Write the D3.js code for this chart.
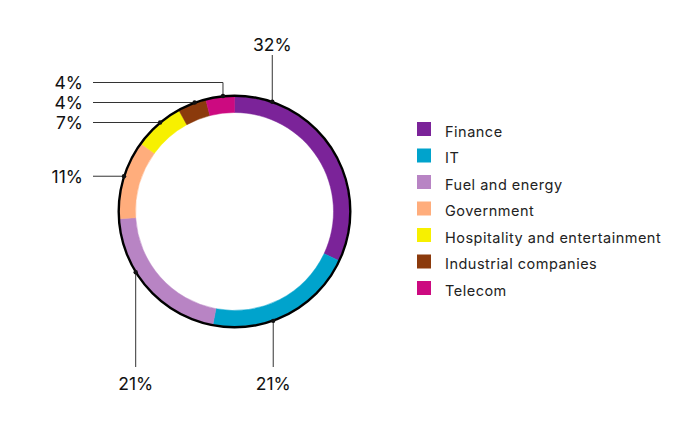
<!DOCTYPE html>
<html>
<head>
<meta charset="utf-8">
<script src="https://cdn.jsdelivr.net/npm/d3@7"></script>
<style>
  html, body { margin: 0; padding: 0; background: #fff; }
  svg { display: block; font-family: Inter, "Open Sans", sans-serif; }
</style>
</head>
<body>
<div id="chart"></div>
<script>
// data
const categories = ["Finance", "IT", "Fuel and energy", "Government",
  "Hospitality and entertainment", "Industrial companies", "Telecom"];
const shares = [32, 21, 21, 11, 7, 4, 4];
const colors = ["#7b2399", "#00a3cc", "#b884c4", "#ffad7c", "#f7f000", "#8b3a0c", "#cc0a80"];

const width = 696, height = 429;
const cx = 234.5, cy = 211.5;
const rOuter = 115, rInner = 99;

// how each label is led out of the ring: "h" = horizontal to the left,
// "up"/"down" = vertical leader with its anchor at the given angle (deg)
const leaders = [
  { kind: "up", angle: 19 },
  { kind: "down", angle: 160.5 },
  { kind: "down", angle: 238.4 },
  { kind: "h" }, { kind: "h" }, { kind: "h" }, { kind: "h" }
];

const svg = d3.select("#chart").append("svg")
  .attr("width", width)
  .attr("height", height)
  .attr("viewBox", `0 0 ${width} ${height}`);

const g = svg.append("g").attr("transform", `translate(${cx},${cy})`);

const pie = d3.pie().sort(null).value(d => d);
const arcs = pie(shares);
const arc = d3.arc().innerRadius(rInner).outerRadius(rOuter);

g.selectAll("path.slice")
  .data(arcs)
  .enter()
  .append("path")
  .attr("class", "slice")
  .attr("d", arc)
  .attr("fill", (d, i) => colors[i])
  .attr("stroke", (d, i) => colors[i])
  .attr("stroke-width", 0.5);

// black rim on the outside of the ring
g.append("circle")
  .attr("r", rOuter + 0.8)
  .attr("fill", "none")
  .attr("stroke", "#000")
  .attr("stroke-width", 2.4);

// leader lines and labels
const rad = a => a * Math.PI / 180;
const pointAt = a => [Math.sin(a) * (rOuter + 1), -Math.cos(a) * (rOuter + 1)];

const labels = arcs.map((d, i) => {
  const L = leaders[i];
  // small-slice anchors sit a touch past the middle of the slice
  const a = L.kind === "h" ? (d.startAngle + d.endAngle) / 2 + rad(1.5) : rad(L.angle);
  const [x, y] = pointAt(a);
  return { i, kind: L.kind, x, y, ly: y, text: shares[i] + "%" };
});

// stack left labels so they keep 20px apart, pushing the upper ones up
const left = labels.filter(l => l.kind === "h").sort((a, b) => b.y - a.y);
for (let k = 1; k < left.length; k++) {
  if (left[k - 1].ly - left[k].ly < 20) left[k].ly = left[k - 1].ly - 20;
}

const lineX = 93 - cx, textX = 83 - cx;
const topY = 55 - cy, bottomY = 367 - cy;

const lg = g.append("g").attr("class", "labels");

labels.forEach(l => {
  let pts;
  if (l.kind === "h") {
    pts = l.ly === l.y ? [[l.x, l.y], [lineX, l.y]]
                       : [[l.x, l.y], [l.x, l.ly], [lineX, l.ly]];
  } else {
    pts = [[l.x, l.y], [l.x, l.kind === "up" ? topY : bottomY]];
  }
  lg.append("path")
    .attr("d", d3.line()(pts))
    .attr("fill", "none")
    .attr("stroke", "#333")
    .attr("stroke-width", 1);
  lg.append("circle")
    .attr("cx", l.x).attr("cy", l.y).attr("r", 2.2)
    .attr("fill", "#111");

  const t = lg.append("text")
    .attr("font-size", 17.5)
    .attr("fill", "#111")
    .attr("dominant-baseline", "central")
    .text(l.text);
  if (l.kind === "h") {
    t.attr("x", textX).attr("y", l.ly).attr("text-anchor", "end");
  } else {
    t.attr("x", l.x)
      .attr("y", l.kind === "up" ? topY - 11 : bottomY + 16)
      .attr("text-anchor", "middle");
  }
});

// legend
const legend = svg.append("g").attr("transform", "translate(417,122)");
const item = legend.selectAll("g")
  .data(categories)
  .enter()
  .append("g")
  .attr("transform", (d, i) => `translate(0,${i * 26.5})`);

item.append("rect")
  .attr("width", 14).attr("height", 14)
  .attr("fill", (d, i) => colors[i]);

item.append("text")
  .attr("x", 28).attr("y", 9)
  .attr("dominant-baseline", "central")
  .attr("font-size", 14.5)
  .attr("fill", "#222")
  .attr("letter-spacing", 0.5)
  .text(d => d);
</script>
</body>
</html>
